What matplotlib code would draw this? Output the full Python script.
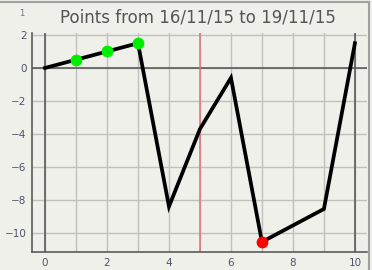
import matplotlib
matplotlib.use("Agg")
import matplotlib.pyplot as plt
from matplotlib.lines import Line2D

# data
xs = [0, 1, 2, 3, 4, 5, 6, 7, 9, 10]
ys = [0.0, 0.5, 1.0, 1.5, -8.4, -3.7, -0.6, -10.55, -8.55, 1.5]
green_x = [1, 2, 3]
green_y = [0.5, 1.0, 1.5]
red_x = [7]
red_y = [-10.55]
xticks = [0, 2, 4, 6, 8, 10]
yticks = [2, 0, -2, -4, -6, -8, -10]
title = "Points from 16/11/15 to 19/11/15"

bg = "#f0f0eb"
label_col = "#4c5466"

fig = plt.figure(figsize=(3.72, 2.70), dpi=100, facecolor=bg)
ax = fig.add_axes([32 / 372, 18 / 270, 335 / 372, 219 / 270])
ax.set_facecolor(bg)

ax.set_xlim(-0.42, 10.39)
ax.set_ylim(-11.16, 2.12)

# grid
for gx in range(0, 11):
    ax.axvline(gx, color="#c0c0bc", lw=1, zorder=1)
for gy in range(-10, 3, 2):
    ax.axhline(gy, color="#c0c0bc", lw=1, zorder=1)
ax.axhline(0, color="#5a5a5a", lw=1.2, zorder=2)
ax.axvline(0, color="#5a5a5a", lw=1.2, zorder=2)
ax.axvline(10, color="#5a5a5a", lw=1.2, zorder=2)
ax.axvline(5, color="#e0707a", lw=1.1, zorder=2)

ax.plot(xs, ys, color="black", lw=2.7, zorder=3, solid_joinstyle="miter")
ax.plot(green_x, green_y, "o", color="#00ee00", ms=8.5, mec="none", zorder=4)
ax.plot(red_x, red_y, "o", color="#ff0000", ms=8.5, mec="none", zorder=4)

ax.set_xticks(xticks)
ax.set_yticks(yticks)
ax.tick_params(length=0, labelsize=7.5, labelcolor=label_col, pad=4)
for s in ["top", "right"]:
    ax.spines[s].set_visible(False)
for s in ["left", "bottom"]:
    ax.spines[s].set_color("#5a5a5a")
    ax.spines[s].set_linewidth(1.2)

fig.text(0.533, 0.935, title, ha="center", va="center", fontsize=12,
         color="#555555")
fig.text(22 / 372, 1 - 13 / 270, "1", ha="center", va="center", fontsize=6,
         color="#707070")

# window border, top and right only
fig.lines.append(Line2D([0, 369 / 372], [1 - 2 / 270, 1 - 2 / 270],
                        transform=fig.transFigure, color="#a0a0a0", lw=1.5))
fig.lines.append(Line2D([369 / 372, 369 / 372], [0, 1 - 2 / 270],
                        transform=fig.transFigure, color="#a0a0a0", lw=1.5))

fig.savefig("out.png", dpi=100, facecolor=bg)
